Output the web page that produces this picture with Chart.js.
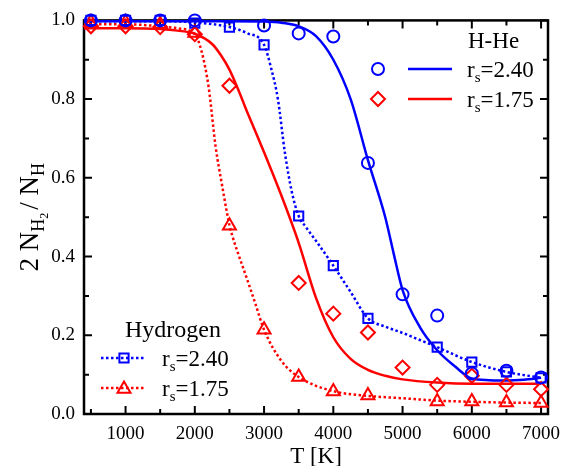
<!DOCTYPE html>
<html><head><meta charset="utf-8">
<script src="https://cdn.jsdelivr.net/npm/chart.js@4"></script>
<style>html,body{margin:0;padding:0;background:#fff}</style>
</head><body>
<canvas id="c" width="575" height="466"></canvas>
<script>
// ---- tick values ----
const xTickValues = [500,1000,1500,2000,2500,3000,3500,4000,4500,5000,5500,6000,6500,7000];
const yTickValues = [0,0.1,0.2,0.3,0.4,0.5,0.6,0.7,0.8,0.9,1.0];

// ---- simulation points ----
const tempHHe240 = [500,1000,1500,2000,3000,3500,4000,4500,5000,5500,6000,6500,7000];
const fracHHe240 = [1.0,1.0,1.0,1.0,0.987,0.967,0.959,0.638,0.304,0.25,0.103,0.11,0.093];
const tempHHe175 = [500,1000,1500,2000,2500,3500,4000,4500,5000,5500,6000,6500,7000];
const fracHHe175 = [0.985,0.985,0.983,0.965,0.834,0.333,0.255,0.207,0.118,0.074,0.097,0.074,0.063];
const tempH240 = [500,1000,1500,2000,2500,3000,3500,4000,4500,5500,6000,6500,7000];
const fracH240 = [1.0,1.0,1.0,0.993,0.983,0.938,0.503,0.377,0.243,0.17,0.132,0.107,0.092];
const tempH175 = [500,1000,1500,2000,2500,3000,3500,4000,4500,5500,6000,6500,7000];
const fracH175 = [0.995,0.995,0.99,0.968,0.478,0.214,0.094,0.057,0.047,0.032,0.032,0.029,0.028];

// ---- fitted curves ----
const fitTempHHe240 = [400,1000,1500,2000,2500,3000,3250,3500,3750,4000,4250,4500,4750,4875,5000,5250,5500,5750,6000,6250,6500,6750,7000];
const fitHHe240 = [0.998,0.998,0.998,0.998,0.998,0.997,0.994,0.985,0.96,0.90,0.80,0.645,0.50,0.405,0.315,0.221,0.162,0.122,0.09,0.086,0.085,0.087,0.092];
const fitTempHHe175 = [400,1000,1500,1750,2000,2250,2375,2500,2625,2750,3000,3250,3500,3750,4000,4250,4500,4750,5000,5500,6000,6500,7000];
const fitHHe175 = [0.98,0.98,0.978,0.974,0.966,0.94,0.912,0.875,0.825,0.77,0.665,0.555,0.435,0.295,0.195,0.14,0.112,0.097,0.088,0.08,0.077,0.077,0.077];
const fitTempH240 = [400,1000,1500,2000,2500,2750,3000,3100,3200,3300,3400,3500,3600,3750,4000,4250,4500,4750,5000,5250,5500,6000,6500,7000];
const fitH240 = [0.998,0.998,0.998,0.995,0.983,0.968,0.938,0.88,0.80,0.665,0.565,0.503,0.476,0.44,0.377,0.31,0.243,0.222,0.206,0.188,0.17,0.132,0.107,0.092];
const fitTempH175 = [400,1000,1500,1750,2000,2100,2200,2300,2400,2500,2550,2625,2750,2875,3000,3250,3500,4000,4500,5000,5500,6000,6500,7000];
const fitH175 = [0.99,0.99,0.985,0.98,0.965,0.92,0.83,0.68,0.575,0.48,0.448,0.408,0.345,0.28,0.214,0.135,0.094,0.058,0.046,0.04,0.034,0.031,0.029,0.028];

const BLUE = '#0000ff', RED = '#ff0000';
const SERIF = '"Liberation Serif", "Times New Roman", serif';
const pts = (xs, ys) => xs.map((v, i) => ({x: v, y: ys[i]}));

function marker(label, xs, ys, color, style, r) {
  return {type:'scatter', label, data: pts(xs, ys), showLine:false, pointStyle:style,
    pointRadius:r, pointBorderWidth:2, borderColor:color, backgroundColor:'rgba(0,0,0,0)',
    pointBackgroundColor:'rgba(0,0,0,0)', pointBorderColor:color, clip:false};
}
function curve(label, xs, ys, color, dash) {
  return {type:'line', label, data: pts(xs, ys), borderColor:color, borderWidth:2.5,
    borderDash: dash ? [2.5, 2.5] : [], pointRadius:0, fill:false,
    cubicInterpolationMode:'monotone', clip:false};
}

function drawRich(ctx, pieces, x, y, align) {
  let w = 0;
  pieces.forEach(p => { ctx.font = p.size + 'px ' + SERIF; w += ctx.measureText(p.t).width + (p.gap || 0); });
  let cx = align === 'center' ? x - w / 2 : x;
  ctx.textAlign = 'left'; ctx.textBaseline = 'alphabetic';
  pieces.forEach(p => {
    ctx.font = p.size + 'px ' + SERIF;
    ctx.fillText(p.t, cx, y + (p.dy || 0));
    cx += ctx.measureText(p.t).width + (p.gap || 0);
  });
}
function symbol(ctx, style, x, y, r, color) {
  ctx.save(); ctx.strokeStyle = color; ctx.lineWidth = 2; ctx.beginPath();
  if (style === 'circle') { ctx.arc(x, y, r, 0, Math.PI * 2); }
  else if (style === 'rectRot') { ctx.moveTo(x, y - r); ctx.lineTo(x + r, y); ctx.lineTo(x, y + r); ctx.lineTo(x - r, y); ctx.closePath(); }
  else if (style === 'rect') { const s = r * Math.SQRT1_2; ctx.rect(x - s, y - s, 2 * s, 2 * s); }
  else if (style === 'triangle') {
    let a = 0; ctx.moveTo(x + Math.sin(a) * r, y - Math.cos(a) * r);
    a += 2 * Math.PI / 3; ctx.lineTo(x + Math.sin(a) * r, y - Math.cos(a) * r);
    a += 2 * Math.PI / 3; ctx.lineTo(x + Math.sin(a) * r, y - Math.cos(a) * r); ctx.closePath();
  }
  ctx.stroke(); ctx.restore();
}
function seg(ctx, x1, y, x2, color, dash) {
  ctx.save(); ctx.strokeStyle = color; ctx.lineWidth = 2.5; ctx.setLineDash(dash ? [2.5, 2.5] : []);
  ctx.beginPath(); ctx.moveTo(x1, y); ctx.lineTo(x2, y); ctx.stroke(); ctx.restore();
}

const deco = {
  id: 'deco',
  beforeDatasetsDraw(chart) {
    const {ctx, chartArea: a, scales: {x, y}} = chart;
    ctx.save();
    ctx.strokeStyle = '#000'; ctx.lineWidth = 2.5;
    ctx.strokeRect(a.left, a.top, a.right - a.left, a.bottom - a.top);
    ctx.lineWidth = 2;
    ctx.beginPath();
    xTickValues.forEach(v => {
      const px = x.getPixelForValue(v), L = v % 1000 === 0 ? 8 : 5;
      ctx.moveTo(px, a.bottom); ctx.lineTo(px, a.bottom - L);
      ctx.moveTo(px, a.top); ctx.lineTo(px, a.top + L);
    });
    yTickValues.forEach(v => {
      const py = y.getPixelForValue(v), L = Math.round(v * 10) % 2 === 0 ? 8 : 5;
      ctx.moveTo(a.left, py); ctx.lineTo(a.left + L, py);
      ctx.moveTo(a.right, py); ctx.lineTo(a.right - L, py);
    });
    ctx.stroke();
    ctx.restore();
  },
  afterDraw(chart) {
    const {ctx, chartArea: a} = chart;
    ctx.save();
    ctx.fillStyle = '#000';
    // axis titles
    drawRich(ctx, [{t: 'T [K]', size: 23}], (a.left + a.right) / 2, 463, 'center');
    ctx.save();
    ctx.translate(38, (a.top + a.bottom) / 2);
    ctx.rotate(-Math.PI / 2);
    drawRich(ctx, [{t: '2 N', size: 27}, {t: 'H', size: 18, dy: 6}, {t: '2', size: 12, dy: 10, gap: 3},
      {t: '/ N', size: 27}, {t: 'H', size: 18, dy: 6}], 0, 0, 'center');
    ctx.restore();
    // H-He legend
    drawRich(ctx, [{t: 'H-He', size: 23}], 468, 48, 'left');
    symbol(ctx, 'circle', 378, 69, 6, BLUE);
    seg(ctx, 408, 69, 452, BLUE, false);
    drawRich(ctx, [{t: 'r', size: 23}, {t: 's', size: 15, dy: 5}, {t: '=2.40', size: 23}], 467, 77, 'left');
    symbol(ctx, 'rectRot', 378, 99, 7, RED);
    seg(ctx, 408, 99, 452, RED, false);
    drawRich(ctx, [{t: 'r', size: 23}, {t: 's', size: 15, dy: 5}, {t: '=1.75', size: 23}], 467, 107, 'left');
    // Hydrogen legend
    drawRich(ctx, [{t: 'Hydrogen', size: 24}], 125, 337, 'left');
    seg(ctx, 101, 358, 146, BLUE, true);
    symbol(ctx, 'rect', 124, 358, 6.5, BLUE);
    drawRich(ctx, [{t: 'r', size: 23}, {t: 's', size: 15, dy: 5}, {t: '=2.40', size: 23}], 162, 366, 'left');
    seg(ctx, 101, 388, 146, RED, true);
    symbol(ctx, 'triangle', 124, 389, 7.5, RED);
    drawRich(ctx, [{t: 'r', size: 23}, {t: 's', size: 15, dy: 5}, {t: '=1.75', size: 23}], 162, 396, 'left');
    ctx.restore();
  }
};

new Chart(document.getElementById('c'), {
  data: {
    datasets: [
      marker('H-He rs=2.40', tempHHe240, fracHHe240, BLUE, 'circle', 6),
      marker('H-He rs=1.75', tempHHe175, fracHHe175, RED, 'rectRot', 7),
      marker('Hydrogen rs=2.40', tempH240, fracH240, BLUE, 'rect', 6.5),
      marker('Hydrogen rs=1.75', tempH175, fracH175, RED, 'triangle', 7.5),
      curve('H-He rs=2.40 fit', fitTempHHe240, fitHHe240, BLUE, false),
      curve('H-He rs=1.75 fit', fitTempHHe175, fitHHe175, RED, false),
      curve('Hydrogen rs=2.40 fit', fitTempH240, fitH240, BLUE, true),
      curve('Hydrogen rs=1.75 fit', fitTempH175, fitH175, RED, true)
    ]
  },
  options: {
    responsive: false, animation: false, devicePixelRatio: 1,
    layout: {padding: {left: 0, top: 16, right: 27, bottom: 0}},
    plugins: {legend: {display: false}, tooltip: {enabled: false}},
    scales: {
      x: {
        type: 'linear', min: 400, max: 7100,
        grid: {display: false, drawTicks: false}, border: {display: false},
        afterBuildTicks: s => { s.ticks = xTickValues.map(v => ({value: v})); },
        afterFit: s => { s.height = 52; },
        ticks: {autoSkip: false, maxRotation: 0, padding: 9, color: '#000',
          font: {family: SERIF, size: 19},
          callback: v => (v % 1000 === 0 ? String(v) : '')}
      },
      y: {
        type: 'linear', min: 0, max: 1,
        grid: {display: false, drawTicks: false}, border: {display: false},
        afterBuildTicks: s => { s.ticks = yTickValues.map(v => ({value: v})); },
        afterFit: s => { s.width = 84; },
        ticks: {autoSkip: false, padding: 9, color: '#000',
          font: {family: SERIF, size: 19},
          callback: v => (Math.round(v * 10) % 2 === 0 ? v.toFixed(1) : '')}
      }
    }
  },
  plugins: [deco]
});
</script>
</body></html>
